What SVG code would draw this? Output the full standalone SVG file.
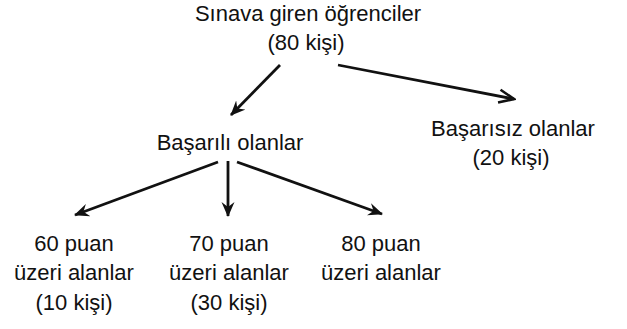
<svg xmlns="http://www.w3.org/2000/svg" width="627" height="329" viewBox="0 0 627 329">
<style>
text{font-family:"Liberation Sans",Arial,sans-serif;font-size:22px;fill:#111;text-anchor:middle}
.c{stroke:#111;stroke-width:2.8;fill:none}
</style>
<defs>
<marker id="ah" markerWidth="16" markerHeight="14" refX="14" refY="7" orient="auto" markerUnits="userSpaceOnUse">
<path d="M0,0.5 L15,7 L0,13.5 L5,7 Z" fill="#111"/>
</marker>
<marker id="open" markerWidth="18" markerHeight="16" refX="16" refY="8" orient="auto" markerUnits="userSpaceOnUse">
<path d="M1,1.5 L16,8 L1,14.5" fill="none" stroke="#111" stroke-width="2.6"/>
</marker>
</defs>
<g id="connectors">
<line class="c" x1="280" y1="65" x2="231" y2="115" marker-end="url(#ah)"/>
<line class="c" x1="338" y1="65" x2="514" y2="99" marker-end="url(#open)"/>
<line class="c" x1="218" y1="162" x2="75" y2="215" marker-end="url(#ah)"/>
<line class="c" x1="228" y1="161" x2="228" y2="216" marker-end="url(#ah)"/>
<line class="c" x1="237" y1="162" x2="382" y2="214" marker-end="url(#ah)"/>
</g>
<g id="root"><text x="308" y="21">Sınava giren öğrenciler</text><text x="306" y="50">(80 kişi)</text></g>
<g id="passed"><text x="230" y="150">Başarılı olanlar</text></g>
<g id="failed"><text x="513" y="136">Başarısız olanlar</text><text x="511" y="165">(20 kişi)</text></g>
<g id="p60"><text x="74" y="251">60 puan</text><text x="74" y="280">üzeri alanlar</text><text x="74" y="310">(10 kişi)</text></g>
<g id="p70"><text x="229" y="251">70 puan</text><text x="229" y="280">üzeri alanlar</text><text x="229" y="310">(30 kişi)</text></g>
<g id="p80"><text x="381" y="251">80 puan</text><text x="381" y="280">üzeri alanlar</text></g>
</svg>
